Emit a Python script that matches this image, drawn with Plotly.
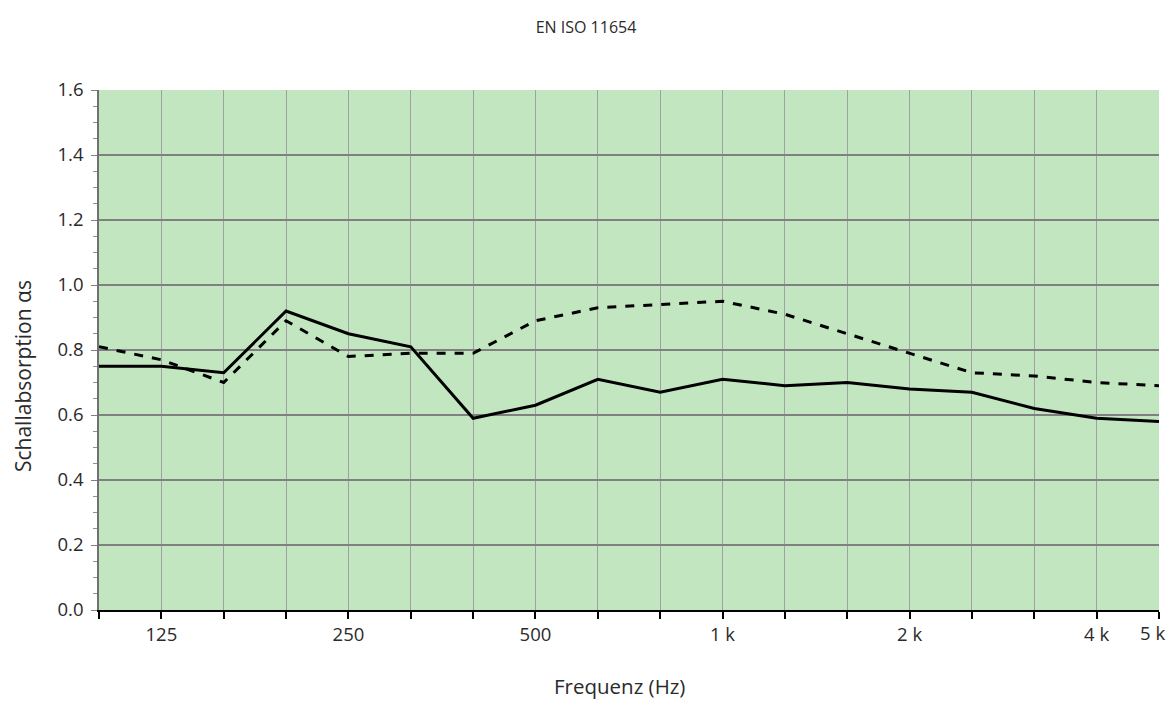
import plotly.graph_objects as go

freqs = ["100", "125", "160", "200", "250", "315", "400", "500", "630", "800",
         "1k", "1.25k", "1.6k", "2k", "2.5k", "3.15k", "4k", "5k"]
solid = [0.75, 0.75, 0.73, 0.92, 0.85, 0.81, 0.59, 0.63, 0.71, 0.67,
         0.71, 0.69, 0.70, 0.68, 0.67, 0.62, 0.59, 0.58]
dashed = [0.81, 0.77, 0.70, 0.89, 0.78, 0.79, 0.79, 0.89, 0.93, 0.94,
          0.95, 0.91, 0.85, 0.79, 0.73, 0.72, 0.70, 0.69]
tick_labels = {"125": "125", "250": "250", "500": "500", "1k": "1 k",
               "2k": "2 k", "4k": "4 k"}
edge_label = ("5k", "5 k")  # last tick label, drawn as annotation to keep it inside the page

xs = list(range(len(freqs)))
font = "Open Sans, Noto Sans, sans-serif"

fig = go.Figure()
fig.add_trace(go.Scatter(x=xs, y=dashed, mode="lines",
                         line=dict(color="black", width=3, dash="dash"),
                         showlegend=False, hoverinfo="skip"))
fig.add_trace(go.Scatter(x=xs, y=solid, mode="lines",
                         line=dict(color="black", width=3),
                         showlegend=False, hoverinfo="skip"))

tickvals = xs
ticktext = [tick_labels.get(f, "") for f in freqs]

W, H = 1166, 692
fig.update_layout(
    width=W, height=H,
    margin=dict(l=91, r=15, t=82, b=90),
    paper_bgcolor="white",
    plot_bgcolor="#c2e6c0",
    font=dict(family=font, size=18, color="#2a2a2a"),
    title=dict(text="EN ISO 11654", x=578 / W, xanchor="center", xref="container",
               y=1 - 19 / H, yanchor="middle",
               font=dict(family=font, size=16, color="#2a2a2a")),
    xaxis=dict(
        range=[0, len(freqs) - 1],
        tickmode="array", tickvals=tickvals, ticktext=ticktext,
        tickfont=dict(size=18.5),
        showgrid=True, gridcolor="#a0a0a0", gridwidth=1,
        ticks="outside", ticklen=7, tickcolor="black", tickwidth=2,
        showline=True, linecolor="black", linewidth=2,
        zeroline=False, automargin=False,
    ),
    yaxis=dict(
        range=[0, 1.6], tickmode="array",
        tickvals=[0, 0.2, 0.4, 0.6, 0.8, 1.0, 1.2, 1.4, 1.6],
        ticktext=["0.0", "0.2", "0.4", "0.6", "0.8", "1.0", "1.2", "1.4", "1.6"],
        tickfont=dict(size=18.5), ticklabelstandoff=4,
        showgrid=True, gridcolor="#808080", gridwidth=1.5,
        ticks="outside", ticklen=6, tickcolor="#808080",
        showline=True, linecolor="#707070", linewidth=1.5,
        zeroline=False, automargin=False,
        minor=dict(dtick=0.05, tick0=0, ticks="outside", ticklen=4, tickcolor="#909090", showgrid=False),
    ),
    annotations=[
        dict(text=edge_label[1], xref="x", yref="paper", x=freqs.index(edge_label[0]), y=0,
             xanchor="right", yanchor="top", yshift=-8, xshift=8, showarrow=False,
             font=dict(family=font, size=18.5, color="#2a2a2a")),
        dict(text="Frequenz (Hz)", xref="paper", yref="paper", x=0.4915, y=-0.146,
             xanchor="center", yanchor="middle", showarrow=False,
             font=dict(family=font, size=20.5, color="#2a2a2a")),
        dict(text="Schallabsorption αs", xref="paper", yref="paper", x=-0.0717, y=0.45,
             xanchor="center", yanchor="middle", showarrow=False, textangle=-90,
             font=dict(family=font, size=21, color="#2a2a2a")),
    ],
)

fig.write_html("out.html")
